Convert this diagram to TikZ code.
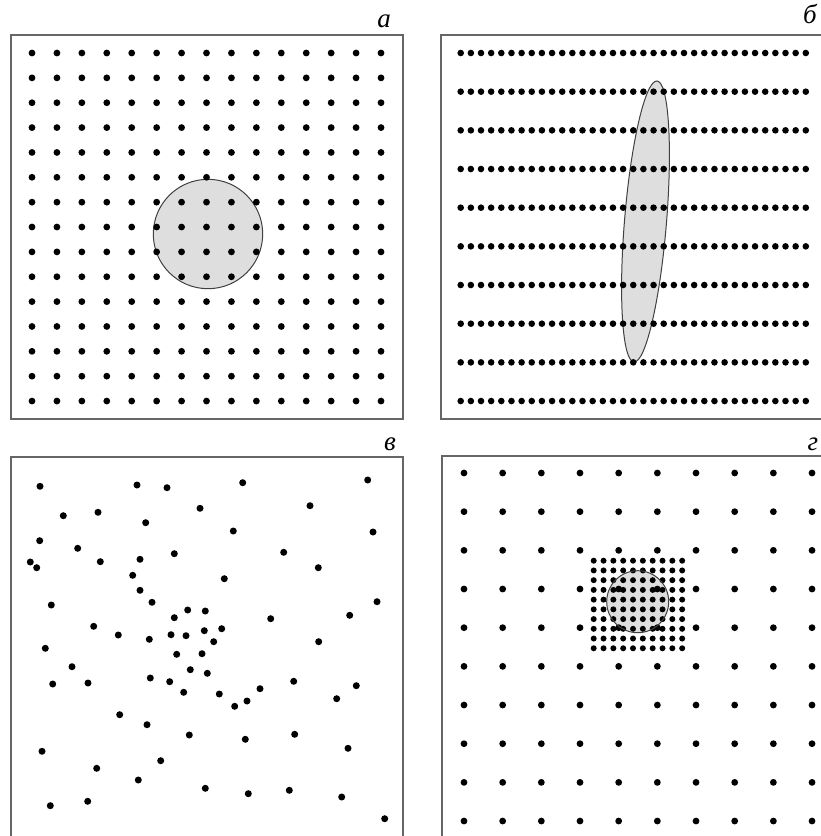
\documentclass[tikz,border=0pt]{standalone}
\usepackage{fontspec}
\setmainfont{Liberation Serif}
\begin{document}
\begin{tikzpicture}[x=1pt,y=-1pt,
  frame/.style={draw=black!60, line width=1.2pt},
  blob/.style={fill=black!13, draw=black!75, line width=1pt},
  lab/.style={font=\itshape\fontsize{27}{27}\selectfont, inner sep=0pt, anchor=base}]
\useasboundingbox (0,0) rectangle (821,836);
% ---------- panel a ----------
\draw[frame] (11,35) rectangle (403,419);
\draw[blob] (208,234) circle[radius=54.7pt];
\foreach \i in {0,...,14}
  \foreach \j in {0,...,14}
    \fill (32+\i*24.93, 53+\j*24.86) circle[radius=3.4pt];
\node[lab] (la) at (384,27) {а};
% ---------- panel b ----------
\draw[frame] (823,35) -- (441,35) -- (441,419) -- (823,419);
\draw[blob, shift={(645.5,221.5)}, rotate=85.3] (0,0) ellipse [x radius=141pt, y radius=21pt];
\foreach \i in {0,...,34}
  \foreach \j in {0,...,9}
    \fill (460.7+\i*10.15, 53+\j*38.67) circle[radius=3.3pt];
\node[lab] (lb) at (810,23) {б};
% ---------- panel v ----------
\draw[frame] (11,838) -- (11,457) -- (403,457) -- (403,838);
\foreach \x/\y in {40/486.3,137/485,167/487.7,242.7/482.7,367.7/480,
  63.3/515.7,98/512.3,200/508.3,310/505.7,145.7/522.7,233.3/531,373/532,
  39.7/540.7,77.7/548.3,174.3/553.7,283.7/552.3,30.3/562,36.7/567.7,
  100.3/561.7,140/559.3,318.3/567.7,132.7/575.3,224.3/578.7,140/590.3,
  51.3/605,152/602.3,377/601.7,187.7/610,205.3/611,174.3/617.7,270.7/618.7,
  349.7/615.3,93.7/626.3,118.3/635,149.3/639.3,171/634.7,186/635.7,
  204.3/630.7,221.7/628.7,213.7/641.7,318.7/641.7,45.3/648.3,176.7/654.3,
  202/653.7,72/666.7,190.3/669.7,207.3/673.3,52.7/684,88/683,150.3/678,
  169.7/681.7,183.7/692.3,219.3/694,260/688.7,293.7/681.3,356.3/685.7,
  336.7/698.7,247/701,234.7/706.3,119.7/714.7,147/724.7,189.3/735,
  245.3/739.3,294.7/734.3,348/748.3,42/751.3,160.7/760.7,96.7/768.3,
  138.3/780,205.3/788.3,248.3/793.7,289.3/790.3,341.7/797,50.3/805.7,
  87.7/801.3,384.7/818.7}
  \fill (\x,\y) circle[radius=3.5pt];
\node[lab] (lv) at (390,450) {в};
% ---------- panel g ----------
\draw[frame] (823,456) -- (442,456) -- (442,838);
\fill[black!13] (637.7,601.7) circle[radius=31pt];
\foreach \i in {0,...,9}
  \foreach \j in {0,...,9}
    \fill (464+\i*38.67, 473+\j*38.67) circle[radius=3.4pt];
\foreach \i in {0,...,9}
  \foreach \j in {0,...,9}
    \fill (593.7+\i*9.83, 560.7+\j*9.73) circle[radius=3pt];
\draw[black!75, line width=1pt] (637.7,601.7) circle[radius=31pt];
\node[lab] (lg) at (813,450) {г};
\end{tikzpicture}
\end{document}
